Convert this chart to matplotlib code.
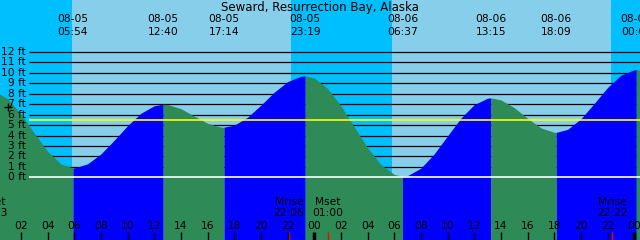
import numpy as np
import matplotlib
matplotlib.use('Agg')
import matplotlib.pyplot as plt

# tide height (ft) at every hour since 08-05 00:00
hour_marks = list(range(0, 50))
hour_ft = [8.26, 7.53, 6.06, 4.23, 2.48, 1.28, 0.90, 1.29, 2.24, 3.55,
           4.95, 6.13, 6.85, 6.97, 6.57, 5.86, 5.17, 4.81, 4.99, 5.75,
           6.91, 8.15, 9.16, 9.67, 9.50, 8.50, 6.84, 4.83, 2.83, 1.22,
           0.27, 0.16, 0.88, 2.25, 3.97, 5.67, 6.96, 7.57, 7.41, 6.67,
           5.64, 4.73, 4.31, 4.59, 5.60, 7.07, 8.60, 9.77, 10.29, 10.15]

# highs and lows
ext_hours = [5.9, 12.667, 17.233, 23.317, 30.617, 37.25, 42.15, 48.15]
ext_ft = [0.9, 7.0, 4.8, 9.7, 0.1, 7.6, 4.3, 10.3]
ext_date = ['08-05', '08-05', '08-05', '08-05', '08-06', '08-06', '08-06', '08-07']
ext_time = ['05:54', '12:40', '17:14', '23:19', '06:37', '13:15', '18:09', '00:09']

# daylight (sunrise, sunset) in hours
daylight = [(5.83, 22.27), (29.83, 46.27)]

# moon events
moon_hours = [-0.117, 22.1, 25.0, 46.367]
moon_name = ['Mset', 'Mrise', 'Mset', 'Mrise']
moon_time = ['23:53', '22:06', '01:00', '22:22']

mean_level = 5.45
levels = list(range(1, 13))

t = np.array(hour_marks + ext_hours, dtype=float)
h = np.array(hour_ft + ext_ft, dtype=float)
order = np.argsort(t)
t, h = t[order], h[order]

x0, x1 = 0.43, 48.43
y0, y1 = -6.0, 16.97
NIGHT = '#00bfff'
DAY = '#87ceeb'
FALL = '#2e8b57'
RISE = '#0000ff'
FS = 7.7

fig = plt.figure(figsize=(6.4, 2.4), dpi=100)
ax = fig.add_axes([0, 0, 1, 1])
ax.set_xlim(x0, x1)
ax.set_ylim(y0, y1)
ax.axis('off')

ax.axvspan(x0 - 1, x1 + 1, color=NIGHT, zorder=0)
for rise, sset in daylight:
    ax.axvspan(rise, sset, color=DAY, zorder=0.5, lw=0)

gx = 2.605
ax.hlines(levels, gx, x1, color='black', lw=0.9, zorder=1)

bounds = [t[0]] + ext_hours + [t[-1]]
for i in range(len(bounds) - 1):
    m = (t >= bounds[i]) & (t <= bounds[i + 1])
    ax.fill_between(t[m], y0, h[m], color=FALL if i % 2 == 0 else RISE,
                    lw=0, zorder=2)

ax.hlines([0], gx, x1, color='white', lw=1.2, zorder=3)
ax.hlines([mean_level], gx, x1, color='yellow', lw=1.2, zorder=3)

for lv in [0] + levels:
    ax.text(x0 + 26 / 13.33, lv, '%d ft' % lv, ha='right', va='center',
            fontsize=FS, zorder=4)

ax.plot([1.05], [6.73], marker='+', color='black', ms=6, mew=1, zorder=5)

xt = ax.get_xaxis_transform()
fig.text(0.5, 1 - 7.5 / 240, 'Seward, Resurrection Bay, Alaska',
         ha='center', va='center', fontsize=8.5)
for eh, d, tm in zip(ext_hours, ext_date, ext_time):
    ax.text(eh, 1 - 19.5 / 240, d, transform=xt, ha='center', va='center', fontsize=FS)
    ax.text(eh, 1 - 31.7 / 240, tm, transform=xt, ha='center', va='center', fontsize=FS)

for mh, nm, tm in zip(moon_hours, moon_name, moon_time):
    ax.text(mh, 1 - 201.7 / 240, nm, transform=xt, ha='center', va='center', fontsize=FS, zorder=4)
    ax.text(mh, 1 - 213.3 / 240, tm, transform=xt, ha='center', va='center', fontsize=FS, zorder=4)
    ax.vlines(mh, 0, 8.3 / 240, transform=xt, color='red', lw=1, zorder=4)

for hr in range(2, 49, 2):
    midnight = hr % 24 == 0
    ax.vlines(hr, 0, 8.3 / 240, transform=xt, color='black',
              lw=2.5 if midnight else 1, zorder=4)
    ax.text(hr, 1 - 225.7 / 240, '%02d' % (hr % 24), transform=xt,
            ha='center', va='center', fontsize=FS, zorder=4)

fig.savefig('out.png', dpi=100)
